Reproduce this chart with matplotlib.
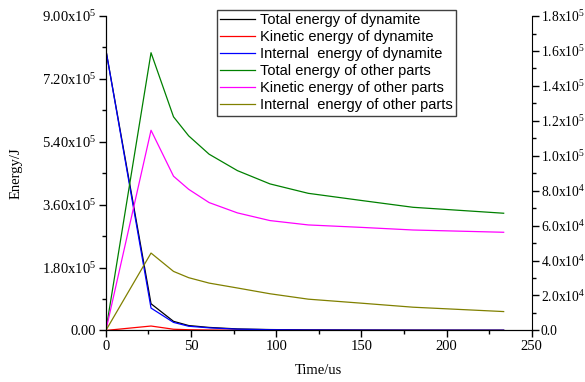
import numpy as np
import matplotlib
matplotlib.use('Agg')
import matplotlib.pyplot as plt
from matplotlib.ticker import MultipleLocator, FuncFormatter

plt.rcParams['font.family'] = 'Liberation Serif'
plt.rcParams['mathtext.default'] = 'regular'

# time points (us)
time = [0, 26.5, 39.7, 48.6, 60.6, 77.2, 96.3, 118.8, 150, 180.3, 233.5]

# dynamite energies (J), left axis
dyn_total = [8.03e5, 7.64e4, 2.6e4, 1.4e4, 8.6e3, 4.3e3, 2.5e3, 1.5e3, 1.0e3, 7e2, 5e2]
dyn_kinetic = [0, 1.26e4, 3.4e3, 2.0e3, 1.2e3, 7e2, 4e2, 2e2, 1e2, 1e2, 0]
dyn_internal = [8.03e5, 6.4e4, 2.3e4, 1.2e4, 7.4e3, 3.6e3, 2.1e3, 1.3e3, 9e2, 6e2, 5e2]

# other parts energies (J), right axis
oth_total = [0, 1.59e5, 1.223e5, 1.114e5, 1.009e5, 9.15e4, 8.39e4, 7.85e4, 7.44e4, 7.05e4, 6.71e4]
oth_kinetic = [0, 1.146e5, 8.83e4, 8.08e4, 7.32e4, 6.73e4, 6.29e4, 6.04e4, 5.9e4, 5.75e4, 5.62e4]
oth_internal = [0, 4.43e4, 3.38e4, 3.02e4, 2.71e4, 2.43e4, 2.1e4, 1.79e4, 1.56e4, 1.33e4, 1.08e4]


def sci_fmt(decimals):
    def f(v, pos):
        if v == 0:
            return '0.' + '0' * decimals
        e = int(np.floor(np.log10(abs(v)) + 1e-9))
        m = v / 10 ** e
        return f'{m:.{decimals}f}x10$^{{{e}}}$'
    return FuncFormatter(f)


fig = plt.figure(figsize=(5.85, 3.82), dpi=100)
ax = fig.add_axes([0.181, 0.135, 0.728, 0.823])
ax2 = ax.twinx()

lw = 0.9
h1, = ax.plot(time, dyn_total, color='black', lw=lw, label='Total energy of dynamite')
h2, = ax.plot(time, dyn_kinetic, color='red', lw=lw, label='Kinetic energy of dynamite')
h3, = ax.plot(time, dyn_internal, color='blue', lw=lw, label='Internal  energy of dynamite')
h4, = ax2.plot(time, oth_total, color='#008000', lw=lw, label='Total energy of other parts')
h5, = ax2.plot(time, oth_kinetic, color='magenta', lw=lw, label='Kinetic energy of other parts')
h6, = ax2.plot(time, oth_internal, color='#808000', lw=lw, label='Internal  energy of other parts')

ax.set_xlim(0, 250)
ax.set_ylim(0, 9e5)
ax2.set_ylim(0, 1.8e5)

ax.xaxis.set_major_locator(MultipleLocator(50))
ax.xaxis.set_minor_locator(MultipleLocator(25))
ax.yaxis.set_major_locator(MultipleLocator(1.8e5))
ax.yaxis.set_minor_locator(MultipleLocator(0.9e5))
ax.yaxis.set_major_formatter(sci_fmt(2))
ax2.yaxis.set_major_locator(MultipleLocator(2e4))
ax2.yaxis.set_minor_locator(MultipleLocator(1e4))
ax2.yaxis.set_major_formatter(sci_fmt(1))

for a in (ax, ax2):
    a.spines['top'].set_visible(False)
    a.tick_params(which='major', direction='out', length=5, width=1, labelsize=10.5, pad=2)
    a.tick_params(which='minor', direction='out', length=3, width=1)
ax2.tick_params(axis='y', labelsize=9.8, pad=1.5)
ax.spines['right'].set_visible(False)

ax.set_xlabel('Time/us', fontsize=10.5, labelpad=8)
ax.set_ylabel('Energy/J', fontsize=10.5, labelpad=14)

leg = ax2.legend(handles=[h1, h2, h3, h4, h5, h6], loc='upper left',
                 bbox_to_anchor=(0.26, 1.02), borderaxespad=0, fancybox=False,
                 prop={'family': 'Liberation Sans', 'size': 10.5}, handlelength=2.4,
                 handletextpad=0.3, labelspacing=0.2, borderpad=0.25, framealpha=1)
leg.get_frame().set_edgecolor('#404040')
leg.get_frame().set_linewidth(1)

fig.savefig('out.png', dpi=100)
